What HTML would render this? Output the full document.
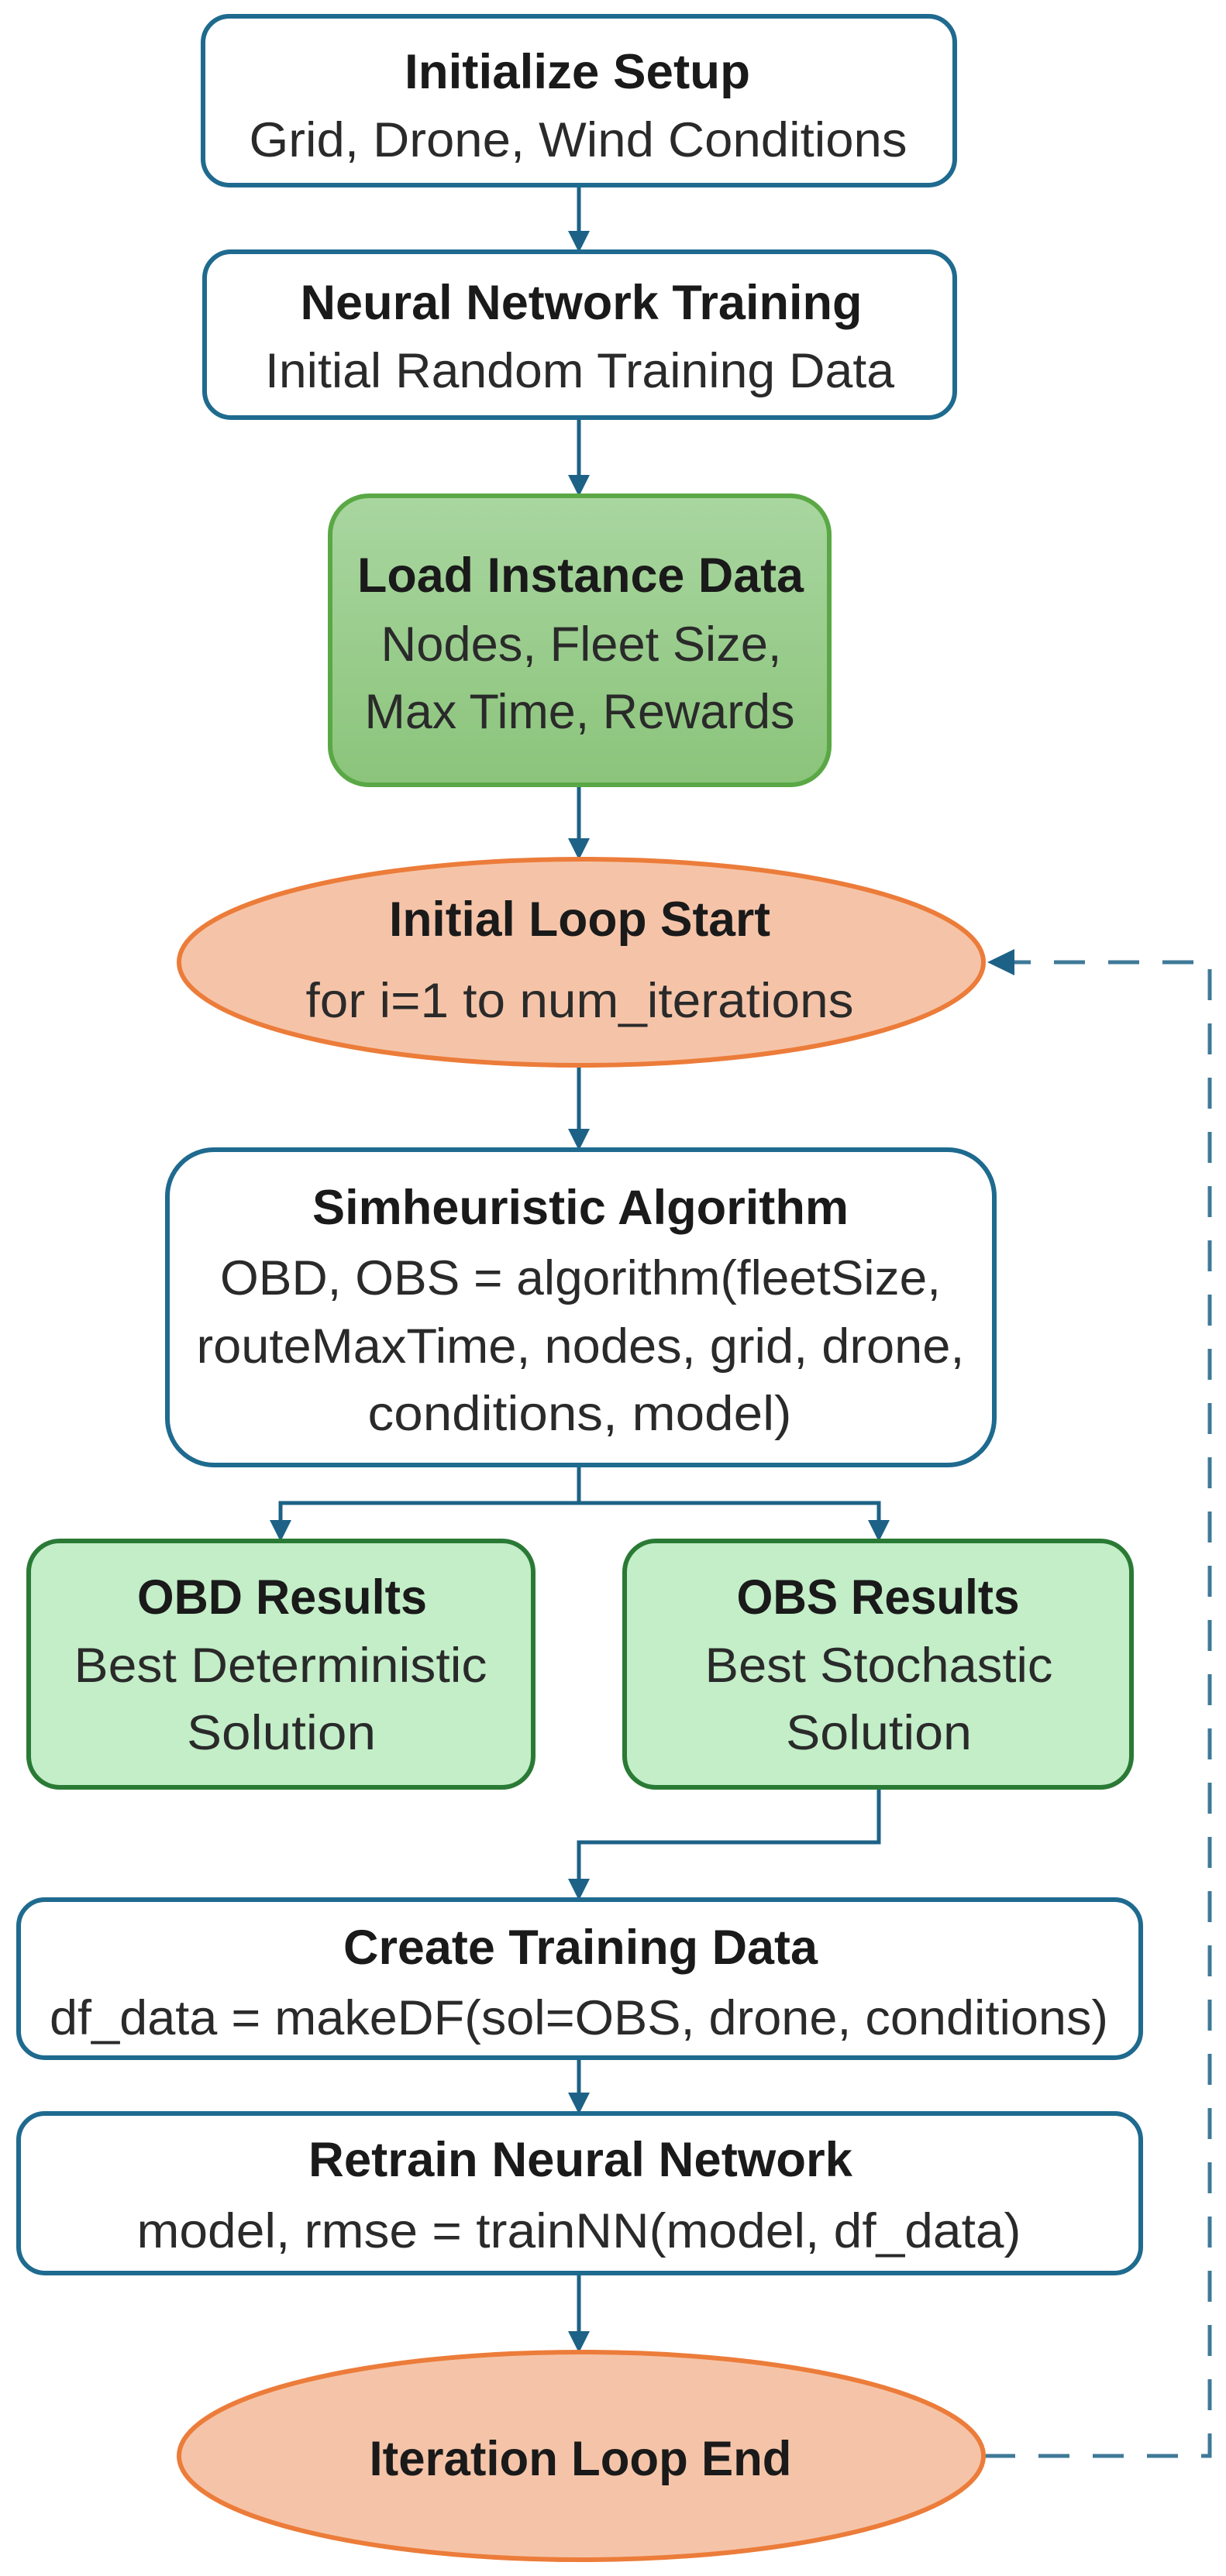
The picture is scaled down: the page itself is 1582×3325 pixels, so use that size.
<!DOCTYPE html>
<html><head><meta charset="utf-8"><style>
html,body{margin:0;padding:0;background:#fff;}
svg{display:block;}
text{font-family:"Liberation Sans Narrow","Liberation Sans",sans-serif;fill:#222;text-anchor:middle;}
.t{font-weight:bold;font-size:63px;fill:#1a1a1a;}
.s{font-size:63px;fill:#2a2a2a;}
</style></head><body>
<svg width="1582" height="3325" viewBox="0 0 1582 3325" xmlns="http://www.w3.org/2000/svg">
<defs>
<linearGradient id="g1" x1="0" y1="0" x2="0" y2="1"><stop offset="0" stop-color="#a9d6a0"/><stop offset="1" stop-color="#8bc47b"/></linearGradient>
</defs>
<g stroke="#1d6286" stroke-width="5" fill="none">
<line x1="747" y1="239" x2="747" y2="300"/>
<line x1="747" y1="539" x2="747" y2="615"/>
<line x1="747" y1="1013" x2="747" y2="1084"/>
<line x1="747" y1="1375" x2="747" y2="1459"/>
<polyline points="747,1891 747,1940 362,1940 362,1964"/>
<polyline points="747,1940 1134,1940 1134,1964"/>
<polyline points="1134,2307 1134,2378 747,2378 747,2427"/>
<line x1="747" y1="2656" x2="747" y2="2703"/>
<line x1="747" y1="2934" x2="747" y2="3011"/>
</g>
<g fill="#1d6286">
<path d="M733,298 L761,298 L747,326 z"/>
<path d="M733,613 L761,613 L747,641 z"/>
<path d="M733,1082 L761,1082 L747,1110 z"/>
<path d="M733,1457 L761,1457 L747,1485 z"/>
<path d="M348,1962 L376,1962 L362,1990 z"/>
<path d="M1120,1962 L1148,1962 L1134,1990 z"/>
<path d="M733,2425 L761,2425 L747,2453 z"/>
<path d="M733,2701 L761,2701 L747,2729 z"/>
<path d="M733,3009 L761,3009 L747,3037 z"/>
<path d="M1274,1242 L1309,1225 L1309,1259 z"/>
</g>
<polyline points="1270,3170 1561,3170 1561,1242 1305,1242" stroke="#1d6286" stroke-width="5" fill="none" stroke-dasharray="40,30" opacity="0.85"/>

<rect x="262" y="21" width="970" height="218" rx="34" fill="#fff" stroke="#1f6a8f" stroke-width="6"/>
<rect x="264" y="325" width="968" height="214" rx="34" fill="#fff" stroke="#1f6a8f" stroke-width="6"/>
<rect x="426" y="640" width="644" height="373" rx="50" fill="url(#g1)" stroke="#5aa845" stroke-width="6"/>
<ellipse cx="750" cy="1242" rx="519" ry="133" fill="#f5c4a8" stroke="#ec7c3a" stroke-width="6"/>
<rect x="216" y="1484" width="1067" height="407" rx="60" fill="#fff" stroke="#1f6a8f" stroke-width="6"/>
<rect x="37" y="1989" width="651" height="318" rx="40" fill="#c3eec8" stroke="#2a7a35" stroke-width="6"/>
<rect x="806" y="1989" width="654" height="318" rx="40" fill="#c3eec8" stroke="#2a7a35" stroke-width="6"/>
<rect x="24" y="2452" width="1448" height="204" rx="34" fill="#fff" stroke="#1f6a8f" stroke-width="6"/>
<rect x="24" y="2728" width="1448" height="206" rx="34" fill="#fff" stroke="#1f6a8f" stroke-width="6"/>
<ellipse cx="750" cy="3170" rx="519" ry="134" fill="#f5c4a8" stroke="#ec7c3a" stroke-width="6"/>

<text class="t" x="745" y="114" textLength="446" lengthAdjust="spacingAndGlyphs">Initialize Setup</text>
<text class="s" x="746" y="202" textLength="849" lengthAdjust="spacingAndGlyphs">Grid, Drone, Wind Conditions</text>
<text class="t" x="750" y="412" textLength="725" lengthAdjust="spacingAndGlyphs">Neural Network Training</text>
<text class="s" x="748" y="500" textLength="812" lengthAdjust="spacingAndGlyphs">Initial Random Training Data</text>
<text class="t" x="749" y="764" textLength="576" lengthAdjust="spacingAndGlyphs">Load Instance Data</text>
<text class="s" x="750" y="853" textLength="517" lengthAdjust="spacingAndGlyphs">Nodes, Fleet Size,</text>
<text class="s" x="748" y="940" textLength="555" lengthAdjust="spacingAndGlyphs">Max Time, Rewards</text>
<text class="t" x="748" y="1208" textLength="492" lengthAdjust="spacingAndGlyphs">Initial Loop Start</text>
<text class="s" x="748" y="1313" textLength="707" lengthAdjust="spacingAndGlyphs">for i=1 to num_iterations</text>
<text class="t" x="749" y="1580" textLength="692" lengthAdjust="spacingAndGlyphs">Simheuristic Algorithm</text>
<text class="s" x="749" y="1671" textLength="930" lengthAdjust="spacingAndGlyphs">OBD, OBS = algorithm(fleetSize,</text>
<text class="s" x="749" y="1759" textLength="991" lengthAdjust="spacingAndGlyphs">routeMaxTime, nodes, grid, drone,</text>
<text class="s" x="748" y="1846" textLength="547" lengthAdjust="spacingAndGlyphs">conditions, model)</text>
<text class="t" x="364" y="2083" textLength="374" lengthAdjust="spacingAndGlyphs">OBD Results</text>
<text class="s" x="362" y="2171" textLength="533" lengthAdjust="spacingAndGlyphs">Best Deterministic</text>
<text class="s" x="363" y="2258" textLength="244" lengthAdjust="spacingAndGlyphs">Solution</text>
<text class="t" x="1133" y="2083" textLength="365" lengthAdjust="spacingAndGlyphs">OBS Results</text>
<text class="s" x="1134" y="2171" textLength="449" lengthAdjust="spacingAndGlyphs">Best Stochastic</text>
<text class="s" x="1134" y="2258" textLength="240" lengthAdjust="spacingAndGlyphs">Solution</text>
<text class="t" x="749" y="2535" textLength="612" lengthAdjust="spacingAndGlyphs">Create Training Data</text>
<text class="s" x="747" y="2626" textLength="1366" lengthAdjust="spacingAndGlyphs">df_data = makeDF(sol=OBS, drone, conditions)</text>
<text class="t" x="749" y="2809" textLength="702" lengthAdjust="spacingAndGlyphs">Retrain Neural Network</text>
<text class="s" x="747" y="2901" textLength="1141" lengthAdjust="spacingAndGlyphs">model, rmse = trainNN(model, df_data)</text>
<text class="t" x="749" y="3195" textLength="545" lengthAdjust="spacingAndGlyphs">Iteration Loop End</text>
</svg>
</body></html>
